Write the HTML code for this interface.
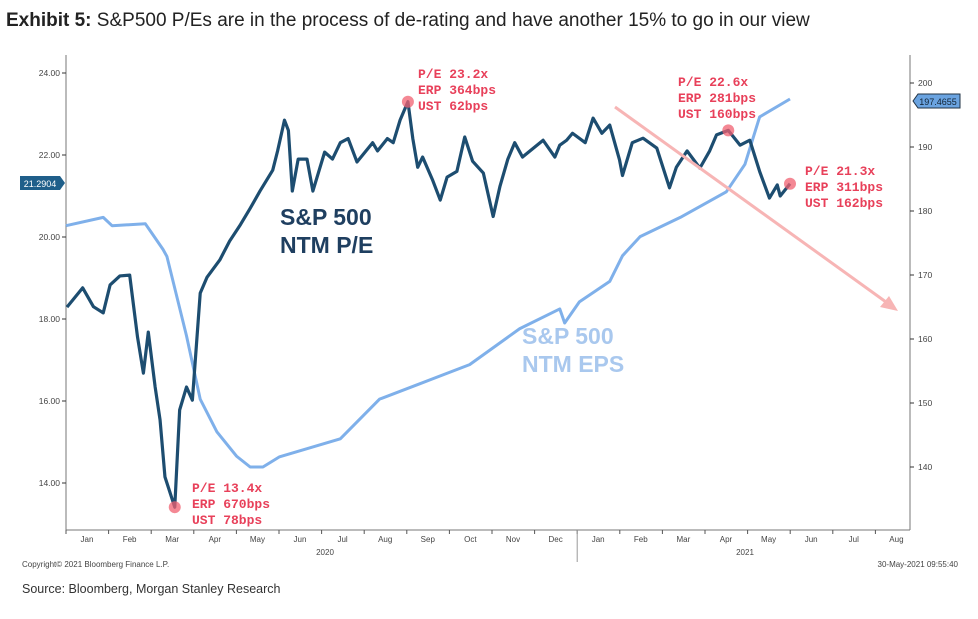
<!DOCTYPE html>
<html><head><meta charset="utf-8"><style>
body{margin:0;background:#fff;width:978px;height:614px;overflow:hidden;font-family:"Liberation Sans",sans-serif}
svg text{font-family:"Liberation Sans",sans-serif}
svg text.mono{font-family:"Liberation Mono",monospace}
</style></head><body>
<svg id="c" width="978" height="614">
<text x="6" y="26" font-size="19" fill="#222"><tspan font-weight="bold">Exhibit 5:</tspan>  S&amp;P500 P/Es are in the process of de-rating and have another 15% to go in our view</text>
<line x1="66" y1="55" x2="66" y2="530" stroke="#777"/>
<line x1="910" y1="55" x2="910" y2="530" stroke="#777"/>
<line x1="66" y1="530" x2="910" y2="530" stroke="#777"/>
<g id="ticks"></g>
<g id="series"></g>
<text x="280" y="225" font-size="23" font-weight="bold" fill="#1f3f60"><tspan x="280">S&amp;P 500</tspan><tspan x="280" dy="28">NTM P/E</tspan></text>
<text x="522" y="344" font-size="23" font-weight="bold" fill="#a9c8ee"><tspan x="522">S&amp;P 500</tspan><tspan x="522" dy="28">NTM EPS</tspan></text>
<g font-size="13" font-weight="bold" fill="#e8405a">
<text class="mono" x="418" y="78"><tspan x="418">P/E 23.2x</tspan><tspan x="418" dy="16">ERP 364bps</tspan><tspan x="418" dy="16">UST 62bps</tspan></text>
<text class="mono" x="678" y="86"><tspan x="678">P/E 22.6x</tspan><tspan x="678" dy="16">ERP 281bps</tspan><tspan x="678" dy="16">UST 160bps</tspan></text>
<text class="mono" x="805" y="175"><tspan x="805">P/E 21.3x</tspan><tspan x="805" dy="16">ERP 311bps</tspan><tspan x="805" dy="16">UST 162bps</tspan></text>
<text class="mono" x="192" y="492"><tspan x="192">P/E 13.4x</tspan><tspan x="192" dy="16">ERP 670bps</tspan><tspan x="192" dy="16">UST 78bps</tspan></text>
</g>
<g>
<line x1="615" y1="107" x2="893" y2="307" stroke="#f7b5b5" stroke-width="3"/>
<polygon points="898,311 880,307 889,296" fill="#f7b5b5"/>
</g>
<g><polygon points="20,176 60,176 65,183 60,190 20,190" fill="#1f5f8a"/><text x="40" y="187" font-size="9" fill="#fff" text-anchor="middle">21.2904</text></g>
<g><polygon points="913,101 918,94 960,94 960,108 918,108" fill="#6aa3e0" stroke="#234"/><text x="938" y="105" font-size="9" fill="#123" text-anchor="middle">197.4655</text></g>
<text x="22" y="567" font-size="8" fill="#444">Copyright© 2021 Bloomberg Finance L.P.</text>
<text x="958" y="567" font-size="8" fill="#444" text-anchor="end">30-May-2021 09:55:40</text>
<text x="22" y="593" font-size="12.5" fill="#333">Source: Bloomberg, Morgan Stanley Research</text>
</svg>
<script>
const months=["Jan","Feb","Mar","Apr","May","Jun","Jul","Aug","Sep","Oct","Nov","Dec","Jan","Feb","Mar","Apr","May","Jun","Jul","Aug"];
const leftTicks=[14,16,18,20,22,24];
const rightTicks=[140,150,160,170,180,190,200];
// dates in weeks since 1 Jan 2020
const peWeeks=[0.1,1.7,2.8,3.8,4.5,5.5,6.5,7.3,7.9,8.4,9.1,9.6,10.1,11.1,11.6,12.3,12.9,13.7,14.4,15.7,16.7,17.8,18.8,19.8,21.1,21.6,22.3,22.7,23.1,23.7,24.6,25.2,26.4,27.2,28.0,28.8,29.7,31.3,31.8,32.8,33.4,34.1,34.9,35.4,35.9,36.4,37.4,38.2,38.9,39.9,40.7,41.5,42.6,43.6,44.3,45.1,45.8,46.6,48.7,49.9,50.4,51.1,51.7,53.0,53.8,54.7,55.5,56.5,56.8,57.8,58.9,60.3,61.6,62.3,63.4,64.7,65.7,66.4,67.6,68.8,69.8,70.8,71.8,72.6,72.9,73.9];
const peValues=[18.29,18.76,18.3,18.15,18.83,19.05,19.07,17.56,16.68,17.68,16.34,15.54,14.15,13.41,15.78,16.34,16.02,18.63,19.02,19.44,19.9,20.3,20.7,21.12,21.63,22.1,22.85,22.6,21.12,21.9,21.9,21.12,22.07,21.9,22.3,22.4,21.83,22.3,22.1,22.4,22.3,22.85,23.3,22.4,21.7,21.95,21.4,20.9,21.46,21.6,22.44,21.85,21.56,20.5,21.24,21.9,22.3,21.95,22.36,21.95,22.24,22.36,22.53,22.3,22.9,22.53,22.73,21.88,21.5,22.3,22.41,22.17,21.2,21.7,22.1,21.68,22.1,22.49,22.6,22.24,22.36,21.6,20.95,21.27,21.0,21.3];
const epsWeeks=[0,3.8,4.7,8.1,8.6,9.9,10.3,12.3,13.7,15.4,17.4,18.8,20.1,21.8,28.0,32.0,36.1,41.2,46.3,50.4,50.9,52.4,55.5,56.8,58.6,62.7,67.4,69.3,70.8,73.9];
const epsValues=[177.7,179,177.7,178,176.9,174,172.9,160.5,150.6,145.5,141.7,140,140,141.6,144.4,150.6,153,156,161.6,164.7,162.5,165.8,169,173,176,179,183,187.3,194.7,197.5];
const markerWeeks=[11.1,34.9,67.6,73.9];
const X=w=>66+w*9.797;
const YL=v=>73+(24-v)*41;
const YR=v=>83+(200-v)*6.4;
const NS="http://www.w3.org/2000/svg";
function mk(p,t,a){const e=document.createElementNS(NS,t);for(const k in a)e.setAttribute(k,a[k]);p.appendChild(e);return e;}
const tk=document.getElementById('ticks'),sr=document.getElementById('series');
leftTicks.forEach(v=>{const y=YL(v);
const l=mk(tk,'line',{x1:62,y1:y,x2:66,y2:y,stroke:'#333'});


const t=mk(tk,'text',{x:60,y:y+3,'font-size':8.5,fill:'#444','text-anchor':'end'});t.textContent=v.toFixed(2);

});
rightTicks.forEach(v=>{const y=YR(v);
const l=mk(tk,'line',{x1:910,y1:y,x2:914,y2:y,stroke:'#333'});


const t=mk(tk,'text',{x:918,y:y+3,'font-size':8.5,fill:'#444'});t.textContent=v;

});
months.forEach((m,i)=>{const x=66+i*42.6;
mk(tk,'line',{x1:x,y1:530,x2:x,y2:534,stroke:'#555'});
const t=mk(tk,'text',{x:x+21,y:542,'font-size':8,fill:'#444','text-anchor':'middle'});t.textContent=m;

});
mk(tk,'line',{x1:66+12*42.6,y1:530,x2:66+12*42.6,y2:562,stroke:'#999'});
[["2020",325],["2021",745]].forEach(([s,x])=>{const t=mk(tk,'text',{x:x,y:555,'font-size':8,fill:'#444','text-anchor':'middle'});t.textContent=s;

});
const eps=mk(sr,'polyline',{points:epsWeeks.map((d,i)=>X(d)+','+YR(epsValues[i])).join(' '),fill:'none',stroke:'#7fb0ea','stroke-width':3,'stroke-linejoin':'round'});


const pe=mk(sr,'polyline',{points:peWeeks.map((d,i)=>X(d)+','+YL(peValues[i])).join(' '),fill:'none',stroke:'#1d4d70','stroke-width':3.2,'stroke-linejoin':'round'});


markerWeeks.forEach(w=>{let bi=0;peWeeks.forEach((d,i)=>{if(Math.abs(d-w)<Math.abs(peWeeks[bi]-w))bi=i;});
const c=mk(sr,'circle',{cx:X(peWeeks[bi]),cy:YL(peValues[bi]),r:6,fill:'#f06070','fill-opacity':0.75});

});
</script>
</body></html>
